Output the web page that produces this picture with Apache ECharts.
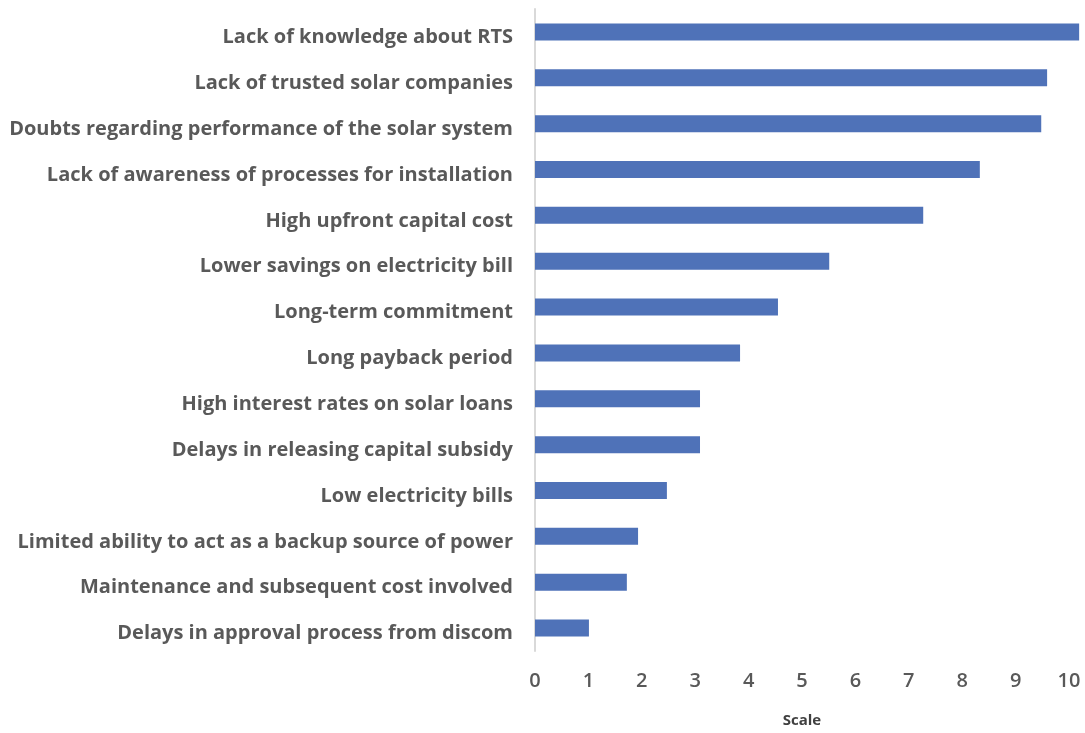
<!DOCTYPE html>
<html>
<head>
<meta charset="utf-8">
<script src="https://cdn.jsdelivr.net/npm/echarts@6/dist/echarts.min.js"></script>
<style>
  html, body { margin: 0; padding: 0; background: #fff; }
  #chart { width: 1085px; height: 733px; }
</style>
</head>
<body>
<div id="chart"></div>
<script>
// barriers, top to bottom as drawn
const categories = [
  'Lack of knowledge about RTS',
  'Lack of trusted solar companies',
  'Doubts regarding performance of the solar system',
  'Lack of awareness of processes for installation',
  'High upfront capital cost',
  'Lower savings on electricity bill',
  'Long-term commitment',
  'Long payback period',
  'High interest rates on solar loans',
  'Delays in releasing capital subsidy',
  'Low electricity bills',
  'Limited ability to act as a backup source of power',
  'Maintenance and subsequent cost involved',
  'Delays in approval process from discom'
];
const scores = [10.19, 9.59, 9.48, 8.33, 7.27, 5.51, 4.55, 3.84, 3.09, 3.09, 2.47, 1.93, 1.72, 1.01];
const xTicks = [0, 10, 1]; // min, max, interval

var myChart = echarts.init(document.getElementById('chart'));
var option = {
  animation: false,
  grid: {
    left: 535,
    right: 16,
    top: 9,
    bottom: 81
  },
  xAxis: {
    type: 'value',
    min: xTicks[0],
    max: xTicks[1],
    interval: xTicks[2],
    name: 'Scale',
    nameLocation: 'middle',
    nameGap: 62,
    nameTextStyle: {
      fontFamily: 'Open Sans',
      fontWeight: 700,
      fontSize: 15,
      color: '#404040'
    },
    axisLine: { show: false },
    axisTick: { show: false },
    splitLine: { show: false },
    axisLabel: {
      margin: 20,
      fontFamily: 'Open Sans',
      fontWeight: 600,
      fontSize: 20,
      color: '#595959'
    }
  },
  yAxis: {
    type: 'category',
    inverse: true,
    data: categories,
    axisLine: { show: true, lineStyle: { color: '#d9d9d9', width: 2 } },
    axisTick: { show: false },
    axisLabel: {
      margin: 22,
      formatter: function (v) { return '{t|' + v + '}'; },
      rich: {
        t: {
          padding: [11, 0, 0, 0],
          fontFamily: 'Open Sans',
          fontWeight: 700,
          fontSize: 20,
          color: '#595959'
        }
      }
    }
  },
  series: [{
    type: 'bar',
    data: scores,
    barWidth: 17,
    clip: false,
    itemStyle: { color: '#4f72b8' }
  }]
};
myChart.setOption(option);
</script>
</body>
</html>
